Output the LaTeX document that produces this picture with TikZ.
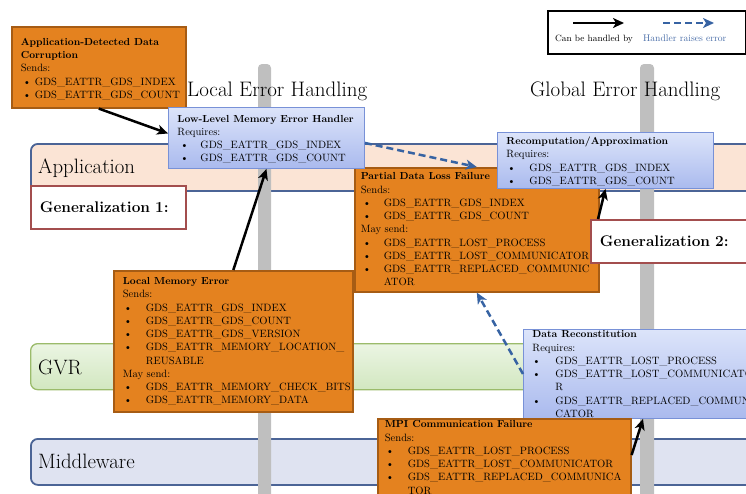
\documentclass[tikz,border=0pt]{standalone}
\usetikzlibrary{arrows.meta}
\definecolor{ofill}{HTML}{E4821F}
\definecolor{oline}{HTML}{A65C14}
\definecolor{btop}{HTML}{DCE4FA}
\definecolor{bbot}{HTML}{AABAEE}
\definecolor{bline}{HTML}{7891D7}
\definecolor{appfill}{HTML}{FBE4D5}
\definecolor{bandline}{HTML}{4B6496}
\definecolor{gvrtop}{HTML}{EBF5E3}
\definecolor{gvrbot}{HTML}{D2E7C0}
\definecolor{gvrline}{HTML}{9BBB6B}
\definecolor{mwfill}{HTML}{DFE3F1}
\definecolor{genline}{HTML}{A34E4E}
\definecolor{colgray}{HTML}{BFBFBF}
\definecolor{dashblue}{HTML}{3763A3}
\definecolor{legblue}{HTML}{4A6EA8}
\newlength{\bulind}\setlength{\bulind}{23pt}
\newlength{\bulx}\setlength{\bulx}{1pt}
\newcommand{\cont}[4]{\parbox[c][#2pt][t]{#1pt}{\raggedright\fontsize{10.6}{13.25}\selectfont\vspace*{#3pt}#4}}
\newcommand{\ttl}[1]{{\fontsize{10.2}{13.25}\selectfont\bfseries #1}}
\newcommand{\bu}[1]{\makebox[\bulind][l]{\hspace{\bulx}\textbullet}#1}
\newcommand{\cn}[1]{\hspace*{\bulind}#1}
\tikzset{
  obox/.style={draw=oline, fill=ofill, line width=1.6pt, inner ysep=0pt, anchor=north west},
  bbox/.style={draw=bline, top color=btop, bottom color=bbot, line width=0.9pt, inner ysep=0pt, anchor=north west},
  band/.style={rounded corners=7pt, line width=1.8pt, anchor=north west, minimum width=730pt, minimum height=46pt, inner sep=0pt},
  bandlabel/.style={anchor=base west, font=\fontsize{20.8}{24}\selectfont, inner sep=0pt},
  genbox/.style={draw=genline, fill=white, line width=1.8pt, anchor=north west, inner xsep=9pt, align=left, font=\fontsize{15.4}{18}\selectfont\bfseries},
  heading/.style={anchor=base west, font=\fontsize{21}{24}\selectfont, inner sep=0pt},
  handled/.style={line width=2.5pt, -{Stealth[length=11pt,width=10pt,inset=3pt]}},
  raises/.style={line width=2.5pt, draw=dashblue, dash pattern=on 7pt off 4pt, -{Stealth[length=11pt,width=10pt,inset=3pt]}},
  column/.style={fill=colgray, rounded corners=4pt},
}
\begin{document}
\begin{tikzpicture}[x=1pt,y=-1pt]
\useasboundingbox (0,0) rectangle (746,493);
\clip (0,0) rectangle (746,493);
% bands
\node[band, draw=bandline, fill=appfill, minimum height=47pt] (appband) at (30,143) {};
\node[band, draw=gvrline, top color=gvrtop, bottom color=gvrbot, line width=1.3pt] (gvrband) at (30,343) {};
\node[band, draw=bandline, fill=mwfill] (mwband) at (30,438) {};
\node[bandlabel] (applbl) at (38,173) {Application};
\node[bandlabel] (gvrlbl) at (38,374) {GVR};
\node[bandlabel] (mwlbl) at (38,468) {Middleware};
% gray columns
\fill[column] (258,64) rectangle (271,520);
\fill[column] (640,64) rectangle (654,520);
% headings
\node[heading] (local) at (187,96) {Local Error Handling};
\node[heading] (global) at (530,96) {Global Error Handling};
% legend
\node[draw=black, line width=1.8pt, anchor=north west, minimum width=198pt, minimum height=43pt, inner sep=0pt] (legend) at (547,10) {};
\coordinate (la1) at (573,23);
\coordinate (la2) at (624,23);
\coordinate (lb1) at (663,23);
\coordinate (lb2) at (714,23);
\draw[handled] (la1) -- (la2);
\draw[raises] (lb1) -- (lb2);
\node[anchor=base west, inner sep=0pt, font=\fontsize{9.1}{11}\selectfont] (leg1) at (555,41) {Can be handled by};
\node[anchor=base west, inner sep=0pt, text=legblue, font=\fontsize{9.6}{11}\selectfont] (leg2) at (643,41) {Handler raises error};
% generalization boxes
\node[genbox, minimum width=155pt, minimum height=43pt, text width=137pt] (gen1) at (30,185) {Generalization 1:};
% boxes
\node[obox, inner xsep=9pt] (app) at (11,26) {\cont{156}{81}{11.5}{\setlength\bulind{14pt}\setlength\bulx{2pt}\ttl{Application-Detected Data}\\ \ttl{Corruption}\\ Sends:\\ \bu{GDS\_EATTR\_GDS\_INDEX}\\ \bu{GDS\_EATTR\_GDS\_COUNT}}};
\node[obox, inner xsep=6pt] (partial) at (354,167) {\cont{232}{124}{5}{\setlength\bulx{2pt}\ttl{Partial Data Loss Failure}\\ Sends:\\ \bu{GDS\_EATTR\_GDS\_INDEX}\\ \bu{GDS\_EATTR\_GDS\_COUNT}\\ May send:\\ \bu{GDS\_EATTR\_LOST\_PROCESS}\\ \bu{GDS\_EATTR\_LOST\_COMMUNICATOR}\\ \bu{GDS\_EATTR\_REPLACED\_COMMUNIC}\\ \cn{ATOR}}};
\node[bbox, inner xsep=9pt] (low) at (168,107) {\cont{178}{61}{7.6}{\setlength\bulx{3pt}\ttl{Low-Level Memory Error Handler}\\ Requires:\\ \bu{GDS\_EATTR\_GDS\_INDEX}\\ \bu{GDS\_EATTR\_GDS\_COUNT}}};
\node[bbox, inner xsep=9pt] (recomp) at (497,132) {\cont{198}{56}{4.4}{\setlength\bulx{1pt}\ttl{Recomputation/Approximation}\\ Requires:\\ \bu{GDS\_EATTR\_GDS\_INDEX}\\ \bu{GDS\_EATTR\_GDS\_COUNT}}};
\node[genbox, minimum width=170pt, minimum height=43pt, text width=152pt] (gen2) at (590,219) {Generalization 2:};
\node[obox, inner xsep=9pt] (lme) at (113,270) {\cont{221}{141}{6.8}{\setlength\bulx{1pt}\ttl{Local Memory Error}\\ Sends:\\ \bu{GDS\_EATTR\_GDS\_INDEX}\\ \bu{GDS\_EATTR\_GDS\_COUNT}\\ \bu{GDS\_EATTR\_GDS\_VERSION}\\ \bu{GDS\_EATTR\_MEMORY\_LOCATION\_}\\ \cn{REUSABLE}\\ May send:\\ \bu{GDS\_EATTR\_MEMORY\_CHECK\_BITS}\\ \bu{GDS\_EATTR\_MEMORY\_DATA}}};
\node[bbox, inner xsep=9pt] (datarec) at (523,329) {\cont{219}{89}{1.4}{\setlength\bulx{0pt}\ttl{Data Reconstitution}\\ Requires:\\ \bu{GDS\_EATTR\_LOST\_PROCESS}\\ \bu{GDS\_EATTR\_LOST\_COMMUNICATO}\\ \cn{R}\\ \bu{GDS\_EATTR\_REPLACED\_COMMUNI}\\ \cn{CATOR}}};
\node[obox, inner xsep=7pt] (mpi) at (377,418) {\cont{239}{87}{2}{\setlength\bulx{1pt}\ttl{MPI Communication Failure}\\ Sends:\\ \bu{GDS\_EATTR\_LOST\_PROCESS}\\ \bu{GDS\_EATTR\_LOST\_COMMUNICATOR}\\ \bu{GDS\_EATTR\_REPLACED\_COMMUNICA}\\ \cn{TOR}}};
% connectors
\draw[handled] (app.south) -- ([yshift=4.5pt]low.west);
\draw[raises] ([yshift=-5pt]low.east) -- (partial.north);
\draw[handled] (lme.north) -- (low.south);
\draw[handled] ([xshift=8pt]gen2.north west) -- (recomp.south);
\draw[raises] (datarec.west) -- (partial.south);
\draw[handled] ([yshift=-37pt]mpi.north east) -- ([xshift=120pt]datarec.south west);
\end{tikzpicture}
\end{document}
